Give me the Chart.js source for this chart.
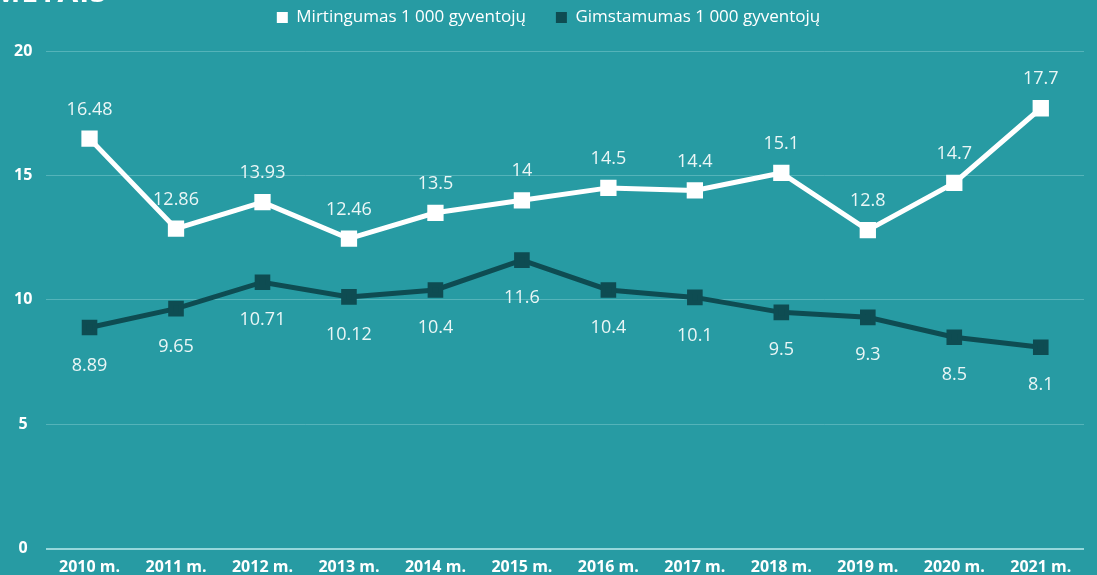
<!DOCTYPE html>
<html>
<head>
<meta charset="utf-8">
<script src="https://cdn.jsdelivr.net/npm/chart.js@4"></script>
<style>
  html, body { margin: 0; padding: 0; background: #279ba3; overflow: hidden; }
  #wrap { position: relative; width: 1097px; height: 575px; overflow: hidden; }
  #title { position: absolute; left: -8px; top: -30px; z-index: 2; font: 700 30px "Open Sans", sans-serif; color: #fff; letter-spacing: 1px; }
  #chart { position: absolute; left: 0; top: -21px; }
</style>
</head>
<body>
<div id="wrap">
  <div id="title">METAIS</div>
  <canvas id="chart" width="1097" height="599"></canvas>
</div>
<script>
"use strict";

const years = ["2010 m.", "2011 m.", "2012 m.", "2013 m.", "2014 m.", "2015 m.",
  "2016 m.", "2017 m.", "2018 m.", "2019 m.", "2020 m.", "2021 m."];
const mortality = [16.48, 12.86, 13.93, 12.46, 13.5, 14, 14.5, 14.4, 15.1, 12.8, 14.7, 17.7];
const births = [8.89, 9.65, 10.71, 10.12, 10.4, 11.6, 10.4, 10.1, 9.5, 9.3, 8.5, 8.1];
const yTicks = [0, 5, 10, 15, 20];

// value labels, above for the first series, below for the second
const valueLabels = {
  id: "valueLabels",
  afterDatasetsDraw(chart) {
    const ctx = chart.ctx;
    ctx.save();
    ctx.font = "400 18px 'Open Sans', sans-serif";
    ctx.fillStyle = "#eaf6f6";
    ctx.textAlign = "center";
    ctx.textBaseline = "middle";
    chart.data.datasets.forEach((ds, i) => {
      const meta = chart.getDatasetMeta(i);
      meta.data.forEach((pt, j) => {
        const dy = i === 0 ? -29 : 38;
        ctx.fillText(String(ds.data[j]), pt.x, pt.y + dy);
      });
    });
    ctx.restore();
  }
};

// extra room under the legend
const legendGap = {
  id: "legendGap",
  beforeInit(chart) {
    const fit = chart.legend.fit;
    chart.legend.fit = function () {
      fit.bind(chart.legend)();
      this.height += 15;
    };
  }
};

const tickFont = { family: "'Open Sans', sans-serif", size: 16, weight: "700" };

const ctx = document.getElementById("chart").getContext("2d");
new Chart(ctx, {
  type: "line",
  data: {
    labels: years,
    datasets: [{
      label: "Mirtingumas 1 000 gyventojų",
      data: mortality,
      borderColor: "#ffffff",
      backgroundColor: "#ffffff",
      borderWidth: 5,
      pointStyle: "rect",
      pointRadius: 8,
      pointHoverRadius: 8
    }, {
      label: "Gimstamumas 1 000 gyventojų",
      data: births,
      borderColor: "#0e4c52",
      backgroundColor: "#0e4c52",
      borderWidth: 5,
      pointStyle: "rect",
      pointRadius: 7.5,
      pointHoverRadius: 7.5
    }]
  },
  options: {
    responsive: false,
    animation: false,
    layout: { padding: 0 },
    plugins: {
      legend: {
        labels: {
          color: "#ffffff",
          font: { family: "'Open Sans', sans-serif", size: 17, weight: "500" },
          boxWidth: 11,
          boxHeight: 11,
          padding: 30,
          generateLabels(chart) {
            return chart.data.datasets.map((ds, i) => ({
              text: ds.label,
              fillStyle: ds.backgroundColor,
              strokeStyle: ds.backgroundColor,
              lineWidth: 0,
              fontColor: "#ffffff",
              datasetIndex: i
            }));
          }
        }
      },
      tooltip: { enabled: false }
    },
    scales: {
      x: {
        offset: true,
        grid: { display: false },
        border: { display: false },
        ticks: { color: "#ffffff", font: tickFont, maxRotation: 0, padding: 1 }
      },
      y: {
        min: 0,
        max: 20,
        afterBuildTicks(axis) { axis.ticks = yTicks.map(v => ({ value: v })); },
        grid: {
          color: c => c.tick && c.tick.value === 0 ? "rgba(190,235,238,0.75)" : "rgba(190,235,238,0.3)",
          lineWidth: c => c.tick && c.tick.value === 0 ? 2 : 1,
          drawTicks: false
        },
        border: { display: false },
        ticks: { color: "#ffffff", font: tickFont, padding: 14, crossAlign: "center" }
      }
    }
  },
  plugins: [valueLabels, legendGap]
});
</script>
</body>
</html>
